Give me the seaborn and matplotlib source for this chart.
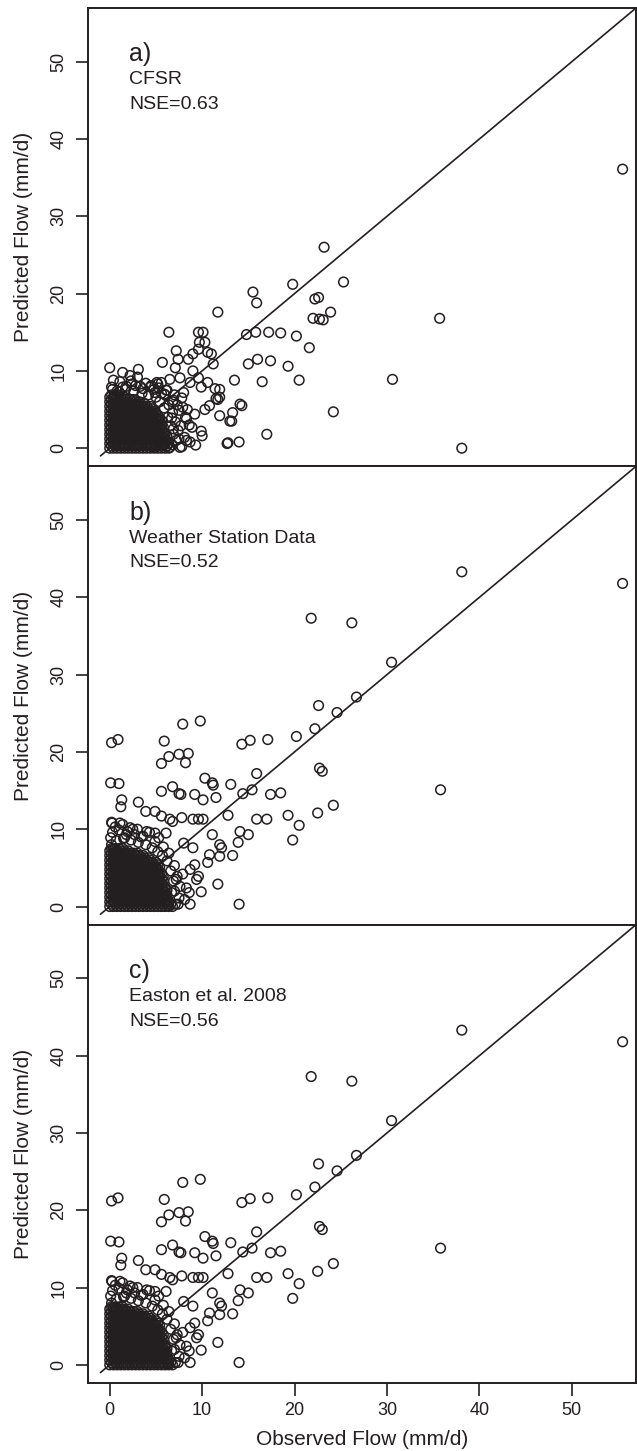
import matplotlib
matplotlib.use("Agg")
import matplotlib.pyplot as plt
import seaborn as sns
import pandas as pd

# ---------------- data ----------------
panel_letters = ["a)", "b)", "c)"]
panel_sources = ["CFSR", "Weather Station Data", "Easton et al. 2008"]
panel_nse = ["NSE=0.63", "NSE=0.52", "NSE=0.56"]
tick_values = [0, 10, 20, 30, 40, 50]
one_to_one = [-1.0, 60.0]

# scattered points, panel a: observed / predicted
obs_a = [55.5, 38.1, 35.7, 30.6, 24.2, 23.2, 25.3, 22.0, 22.7, 23.1, 23.9, 22.2, 22.6, 21.6,
         20.2, 18.5, 17.2, 15.8, 14.8, 15.9, 15.5, 19.8, 11.7, 6.4, 9.6, 10.1, 16.0, 15.0,
         17.4, 19.3, 20.5, 16.5, 13.5, 14.1, 14.3, 13.3, 13.2, 11.9, 17.0, 12.7, 14.0, 10.3,
         10.8, 11.5, 11.9, 11.7, 10.0, 9.9, 8.7, 7.6, 6.5, 5.7, 7.2, 7.4, 8.5, 9.0, 9.6, 9.7,
         10.3, 10.6, 11.0, 11.2, 7.1, 9.0, 9.6, 10.6, 11.4, 11.9, 9.9, 8.7, 7.6, 6.5, 5.6,
         5.2, 3.1, 2.2, 1.4, 0.5, 2.3, 7.8, 8.2, 6.9, 7.5, 8.0, 0.3, 1.0, 1.8, 2.8, 3.6, 4.4,
         6.2, 7.0, 7.9, 8.6, 9.2, 4.9, 3.9, 5.9, 6.8, 8.3, 13.0, 12.8, 4.9, 5.1]
pred_a = [36.1, 0.0, 16.8, 8.9, 4.7, 26.0, 21.5, 16.8, 16.7, 16.6, 17.6, 19.3, 19.5, 13.0,
          14.5, 14.9, 15.0, 15.0, 14.7, 18.8, 20.2, 21.2, 17.6, 15.0, 15.0, 15.0, 11.5, 10.9,
          11.3, 10.6, 8.8, 8.6, 8.8, 5.7, 5.5, 4.6, 3.5, 4.2, 1.8, 0.6, 0.8, 5.0,
          5.5, 6.4, 7.6, 6.3, 1.6, 2.2, 0.8, 0.1, 0.1, 11.1, 12.6, 11.5, 11.5, 12.2, 12.8, 13.7,
          13.7, 12.4, 12.2, 10.9, 10.4, 10.0, 9.1, 8.5, 7.7, 6.6, 7.9, 8.5, 9.1, 8.9, 8.5,
          8.3, 10.2, 9.4, 7.9, 6.8, 8.7, 6.5, 4.0, 2.5, 1.2, 7.2, 7.6, 7.3, 8.0, 8.1, 7.7, 7.9,
          7.5, 6.9, 5.3, 3.0, 4.4, 7.2, 8.4, 7.0, 6.0, 1.0, 3.5, 0.7, 0.1, 8.5]

# scattered points, panels b and c
obs_b = [55.5, 38.1, 21.8, 26.2, 30.5, 35.8, 26.7, 24.6, 22.6, 22.2, 20.2, 17.1, 15.2, 14.3,
         9.8, 7.9, 5.9, 0.2, 0.9, 5.6, 6.4, 7.5, 8.5, 8.2, 22.7, 23.0, 15.9, 10.3, 11.1, 11.2,
         13.1, 0.1, 1.0, 5.6, 6.8, 7.5, 7.7, 9.2, 10.1, 11.5, 14.4, 15.4, 17.4, 18.5, 24.2,
         22.5, 19.3, 20.5, 19.8, 15.9, 17.0, 12.8, 1.3, 1.2, 3.1, 3.9, 4.9, 0.25, 1.1, 5.6,
         6.5, 6.8, 7.8, 9.0, 9.6, 10.1, 14.1, 15.0, 13.9, 11.1, 11.9, 12.1, 13.3, 11.7, 9.9,
         14.0, 8.7, 9.4, 9.6, 9.2, 10.6, 11.9, 10.8, 8.7, 7.4, 6.3, 6.0, 6.7, 7.2, 0.2, 0.4,
         1.6, 1.8, 4.0, 4.9, 6.1, 2.5, 3.4, 8.0, 9.0]
pred_b = [41.8, 43.3, 37.3, 36.7, 31.6, 15.1, 27.1, 25.1, 26.0, 23.0, 22.0, 21.6, 21.5, 21.0,
          24.0, 23.6, 21.4, 21.2, 21.6, 18.5, 19.4, 19.7, 19.8, 18.6, 17.9, 17.5, 17.2, 16.6, 16.0,
          15.7, 15.8, 16.0, 15.9, 14.9, 15.5, 14.6, 14.5, 14.5, 13.8, 14.1, 14.6, 15.1, 14.5,
          14.7, 13.1, 12.1, 11.8, 10.5, 8.6, 11.3, 11.3, 11.8, 13.8, 12.9, 13.5, 12.3, 12.3,
          10.8, 10.8, 11.7, 11.3, 11.0, 11.5, 11.3, 11.3, 11.3, 9.7, 9.3, 8.3, 9.3, 8.0, 7.6,
          6.6, 2.9, 1.9, 0.3, 4.8, 3.5, 3.9, 5.4, 5.7, 6.5, 6.7, 0.3, 0.3, 0.1, 1.3, 1.8, 3.5,
          8.0, 7.4, 8.9, 9.3, 9.7, 9.5, 9.5, 10.0, 9.0, 8.2, 7.6]

# fringe of the dense cloud (many overlapping days), panel a
fringe_obs_a = [6.8, 7.2, 6.9, 7.4, 6.6, 7.1, 6.3, 6.8, 5.9, 6.4, 5.4, 5.0, 4.2, 3.5, 2.6,
                1.7, 0.8, 0.2, 7.8, 8.1, 7.7, 8.3, 7.5, 6.9, 6.0, 4.8, 3.3, 2.4, 1.1, 0.4,
                8.9, 9.3, 7.3, 6.1, 5.6, 4.5, 3.0, 1.4, 0.0, 8.4, 6.7, 5.3]
fringe_pred_a = [0.4, 1.0, 1.8, 2.3, 2.9, 3.4, 4.0, 4.6, 5.2, 5.6, 6.0, 6.6, 6.9, 7.1, 7.4,
                 7.6, 7.4, 7.9, 0.2, 1.4, 2.9, 3.8, 4.9, 6.2, 6.9, 7.6, 8.0, 8.3, 8.6, 8.8,
                 2.7, 0.4, 5.6, 7.5, 7.1, 8.1, 9.2, 9.8, 10.4, 5.0, 3.9, 7.8]

# fringe of the dense cloud, panels b and c
fringe_obs_b = [7.1, 7.5, 7.0, 7.6, 6.9, 7.3, 6.6, 7.0, 6.2, 5.7, 5.2, 4.6, 3.9, 3.1, 2.3,
                1.5, 0.7, 0.1, 8.1, 8.3, 7.9, 6.4, 5.8, 4.9, 3.6, 2.7, 1.9, 1.0, 0.3, 0.6,
                1.4, 2.2, 3.0, 0.2, 8.6, 5.3, 4.3]
fringe_pred_b = [0.3, 1.1, 2.0, 2.6, 3.3, 3.9, 4.6, 5.3, 5.9, 6.6, 7.1, 7.6, 8.0, 8.3, 8.6,
                 8.8, 8.5, 8.9, 0.9, 2.4, 4.2, 6.9, 7.7, 8.4, 9.1, 9.3, 9.7, 9.9, 9.6, 10.3,
                 10.6, 10.2, 10.0, 10.9, 1.8, 8.9, 9.6]

# dense core of overlapping days: staggered x positions and, per row, y and count
core_x_even = [0.0, 0.4, 0.8, 1.2, 1.6, 2.0, 2.4, 2.8, 3.2, 3.6, 4.0, 4.4, 4.8, 5.2, 5.6, 6.0, 6.4, 6.8]
core_x_odd = [0.2, 0.6, 1.0, 1.4, 1.8, 2.2, 2.6, 3.0, 3.4, 3.8, 4.2, 4.6, 5.0, 5.4, 5.8, 6.2, 6.6]
core_rows_y = [0.0, 0.3, 0.6, 0.9, 1.2, 1.5, 1.8, 2.1, 2.4, 2.7, 3.0, 3.3, 3.6, 3.9, 4.2,
               4.5, 4.8, 5.1, 5.4, 5.7, 6.0, 6.3, 6.6, 6.9, 7.2, 7.5]
core_counts_a = [17, 16, 17, 16, 16, 16, 16, 15, 15, 15, 15, 14, 15, 14, 14,
                 13, 13, 12, 12, 10, 9, 7, 5, 2, 0, 0]
core_counts_b = [18, 17, 17, 16, 16, 16, 16, 16, 16, 15, 15, 15, 15, 15, 15,
                 14, 14, 14, 14, 13, 12, 11, 10, 8, 6, 4]


def build_frame(obs, pred, f_obs, f_pred, counts):
    xs = list(obs) + list(f_obs)
    ys = list(pred) + list(f_pred)
    for i, (yv, n) in enumerate(zip(core_rows_y, counts)):
        row = core_x_even if i % 2 == 0 else core_x_odd
        xs.extend(row[:n])
        ys.extend([yv] * min(n, len(row)))
    return pd.DataFrame({"Observed": xs, "Predicted": ys})


frames = [build_frame(obs_a, pred_a, fringe_obs_a, fringe_pred_a, core_counts_a),
          build_frame(obs_b, pred_b, fringe_obs_b, fringe_pred_b, core_counts_b),
          build_frame(obs_b, pred_b, fringe_obs_b, fringe_pred_b, core_counts_b)]

# ---------------- style ----------------
sns.set_theme(style="white")
plt.rcParams["font.family"] = ["Liberation Sans", "DejaVu Sans"]
INK = "#231f20"

W, H = 637, 1451
fig = plt.figure(figsize=(W / 100, H / 100), dpi=100)
left_px, right_px = 88, 636
top_px, bottom_px = 8, 1383
panel_h = (bottom_px - top_px) / 3
lims = (-2.35, 56.95)

for i in range(3):
    t = top_px + i * panel_h
    ax = fig.add_axes([left_px / W, 1 - (t + panel_h) / H,
                       (right_px - left_px) / W, panel_h / H])
    df = frames[i]
    sns.scatterplot(data=df, x="Observed", y="Predicted", ax=ax, marker="o",
                    s=48, facecolor="none", edgecolor=INK, linewidth=1.1, legend=False)
    sns.lineplot(x=one_to_one, y=one_to_one, ax=ax, color=INK, lw=1.2)
    ax.set_xlim(lims)
    ax.set_ylim(lims)
    for sp in ax.spines.values():
        sp.set_visible(True)
        sp.set_color(INK)
        sp.set_linewidth(1.4)
    ax.set_yticks(tick_values)
    ax.set_yticklabels([str(v) for v in tick_values], rotation=90, va="center")
    ax.tick_params(axis="y", direction="out", length=9, width=1.2, color=INK,
                   labelsize=13, labelcolor=INK, pad=6, left=True)
    ax.set_ylabel("Predicted Flow (mm/d)", fontsize=15, color=INK)
    ax.yaxis.set_label_coords(-0.10, 0.5)
    if i < 2:
        ax.set_xticks([])
        ax.set_xlabel("")
    else:
        ax.set_xticks(tick_values)
        ax.set_xticklabels([str(v) for v in tick_values])
        ax.tick_params(axis="x", direction="out", length=9, width=1.2, color=INK,
                       labelsize=13, labelcolor=INK, pad=5, bottom=True)
        ax.set_xlabel("Observed Flow (mm/d)", fontsize=15, color=INK)
        ax.xaxis.set_label_coords(0.5, -0.103)
    ax.text(0.075, 0.925, panel_letters[i], transform=ax.transAxes, fontsize=18,
            color=INK, ha="left", va="top")
    ax.text(0.075, 0.862, panel_sources[i], transform=ax.transAxes, fontsize=14,
            color=INK, ha="left", va="top")
    ax.text(0.075, 0.808, panel_nse[i], transform=ax.transAxes, fontsize=14,
            color=INK, ha="left", va="top")

fig.savefig("out.png", dpi=100)
